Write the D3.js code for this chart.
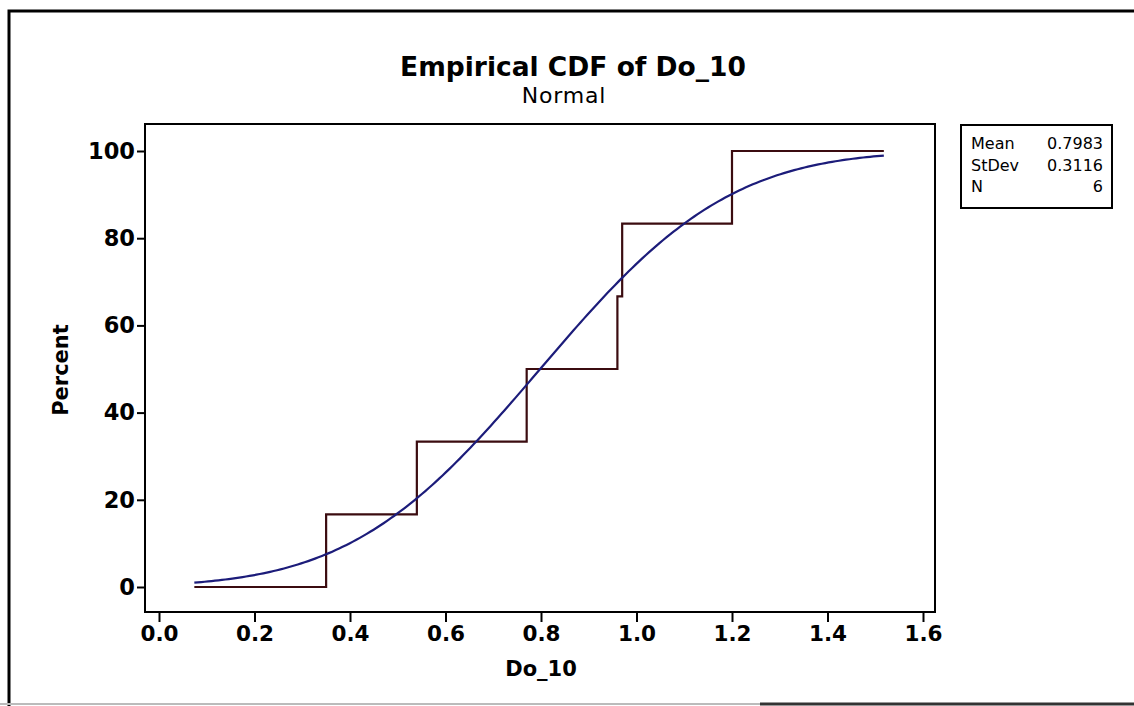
<!DOCTYPE html>
<html>
<head>
<meta charset="utf-8">
<script src="https://cdn.jsdelivr.net/npm/d3@7"></script>
<style>
  html, body { margin: 0; padding: 0; background: #fff; }
  svg { display: block; }
</style>
</head>
<body>
<svg id="chart" width="1134" height="706"></svg>
<script>
// Observations of Do_10 (sorted)
const observations = [0.35, 0.54, 0.77, 0.96, 0.97, 1.20];
// Range covered by the step function and fitted curve
const xRange = [0.074, 1.518];
// Summary statistics shown in the side box
const statNames = ["Mean", "StDev", "N"];
const statText = ["0.7983", "0.3116", "6"];
const fitMean = 0.7983;
const fitStDev = 0.3116;
// Axis ticks
const xTicks = [0.0, 0.2, 0.4, 0.6, 0.8, 1.0, 1.2, 1.4, 1.6];
const yTicks = [0, 20, 40, 60, 80, 100];

const svg = d3.select("#chart");
const W = 1134, H = 706;

// Outer frame
svg.append("path")
  .attr("d", `M9,${H + 5} L9,11 L${W + 5},11`)
  .attr("fill", "none").attr("stroke", "#000").attr("stroke-width", 3);
svg.append("line")
  .attr("x1", 0).attr("x2", W).attr("y1", 704).attr("y2", 704)
  .attr("stroke", "#bbb").attr("stroke-width", 2);
svg.append("line")
  .attr("x1", 760).attr("x2", W).attr("y1", 704).attr("y2", 704)
  .attr("stroke", "#333").attr("stroke-width", 3);

const plot = { left: 145, top: 124, right: 935, bottom: 612 };

const x = d3.scaleLinear().domain([0, 1.6]).range([159, 923]);
const y = d3.scaleLinear().domain([0, 100]).range([587, 151]);

const font = "Tahoma, 'DejaVu Sans', Verdana, sans-serif";

// Plot area border
svg.append("rect")
  .attr("x", plot.left).attr("y", plot.top)
  .attr("width", plot.right - plot.left).attr("height", plot.bottom - plot.top)
  .attr("fill", "none").attr("stroke", "#000").attr("stroke-width", 2);

// Axes
const xAxis = d3.axisBottom(x).tickValues(xTicks).tickFormat(d3.format(".1f"))
  .tickSize(10).tickSizeOuter(0).tickPadding(4);
const gx = svg.append("g").attr("transform", `translate(0,${plot.bottom})`).call(xAxis);
gx.select(".domain").remove();
gx.selectAll("line").attr("stroke", "#000").attr("stroke-width", 2);
gx.selectAll("text").attr("font-family", font).attr("font-weight", "bold")
  .attr("font-size", 21.5).attr("fill", "#000");

const yAxis = d3.axisLeft(y).tickValues(yTicks).tickFormat(d3.format("d"))
  .tickSize(8).tickSizeOuter(0).tickPadding(2);
const gy = svg.append("g").attr("transform", `translate(${plot.left},0)`).call(yAxis);
gy.select(".domain").remove();
gy.selectAll("line").attr("stroke", "#000").attr("stroke-width", 2);
gy.selectAll("text").attr("font-family", font).attr("font-weight", "bold")
  .attr("font-size", 22.5).attr("fill", "#000");

// Empirical CDF step path
const n = observations.length;
const stepPts = [[xRange[0], 0]];
observations.forEach((v, i) => { stepPts.push([v, (i + 1) / n * 100]); });
stepPts.push([xRange[1], 100]);
const stepLine = d3.line().x(d => x(d[0])).y(d => y(d[1])).curve(d3.curveStepAfter);
svg.append("path")
  .datum(stepPts)
  .attr("d", stepLine)
  .attr("fill", "none").attr("stroke", "#3b0c10").attr("stroke-width", 2.2);

// Fitted normal CDF
function erf(z) {
  const s = Math.sign(z); z = Math.abs(z);
  const t = 1 / (1 + 0.3275911 * z);
  const p = t * (0.254829592 + t * (-0.284496736 + t * (1.421413741 + t * (-1.453152027 + t * 1.061405429))));
  return s * (1 - p * Math.exp(-z * z));
}
const normCdf = v => 0.5 * (1 + erf((v - fitMean) / (fitStDev * Math.SQRT2)));
const fitPts = d3.range(0, 201).map(i => {
  const v = xRange[0] + (xRange[1] - xRange[0]) * i / 200;
  return [v, normCdf(v) * 100];
});
svg.append("path")
  .datum(fitPts)
  .attr("d", d3.line().x(d => x(d[0])).y(d => y(d[1])))
  .attr("fill", "none").attr("stroke", "#1c1c7a").attr("stroke-width", 2.2);

// Titles
svg.append("text").attr("x", 573).attr("y", 76).attr("text-anchor", "middle")
  .attr("font-family", font).attr("font-weight", "bold").attr("font-size", 26.5)
  .text("Empirical CDF of Do_10");
svg.append("text").attr("x", 564).attr("y", 103).attr("text-anchor", "middle")
  .attr("font-family", font).attr("font-size", 22).attr("letter-spacing", 0.8)
  .text("Normal");

// Axis labels
svg.append("text").attr("x", 541).attr("y", 676).attr("text-anchor", "middle")
  .attr("font-family", font).attr("font-weight", "bold").attr("font-size", 21)
  .text("Do_10");
svg.append("text")
  .attr("transform", "translate(68,370) rotate(-90)")
  .attr("text-anchor", "middle")
  .attr("font-family", font).attr("font-weight", "bold").attr("font-size", 21)
  .text("Percent");

// Statistics box
const box = { x: 961, y: 125, w: 151, h: 83 };
svg.append("rect").attr("x", box.x).attr("y", box.y).attr("width", box.w).attr("height", box.h)
  .attr("fill", "#fff").attr("stroke", "#000").attr("stroke-width", 2);
const rows = svg.append("g");
statNames.forEach((name, i) => {
  const ry = box.y + 24 + i * 21.5;
  rows.append("text").attr("x", box.x + 10).attr("y", ry)
    .attr("font-family", font).attr("font-size", 16).text(name);
  rows.append("text").attr("x", box.x + box.w - 9).attr("y", ry).attr("text-anchor", "end")
    .attr("font-family", font).attr("font-size", 16).text(statText[i]);
});
</script>
</body>
</html>
